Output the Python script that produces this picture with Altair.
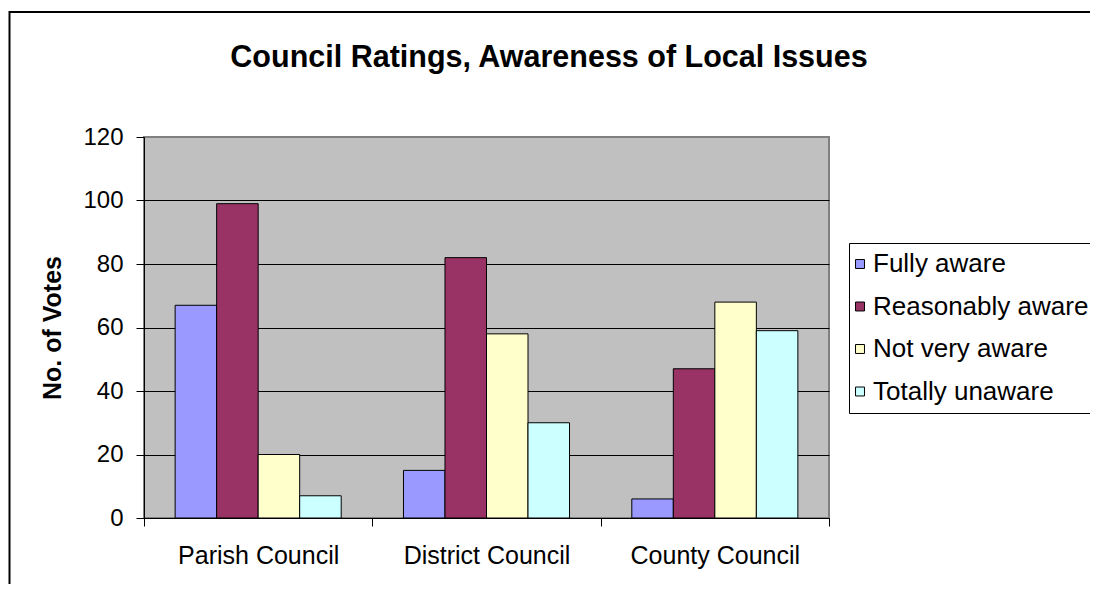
import altair as alt
import pandas as pd

categories = ["Parish Council", "District Council", "County Council"]
series = ["Fully aware", "Reasonably aware", "Not very aware", "Totally unaware"]
fully_aware = [67, 15, 6]
reasonably_aware = [99, 82, 47]
not_very_aware = [20, 58, 68]
totally_unaware = [7, 30, 59]
colors = ["#9999FF", "#993366", "#FFFFCC", "#CCFFFF"]
y_ticks = [0, 20, 40, 60, 80, 100, 120]
title_text = "Council Ratings, Awareness of Local Issues"
y_title = "No. of Votes"

rows = []
for s, vals in zip(series, [fully_aware, reasonably_aware, not_very_aware, totally_unaware]):
    for c, v in zip(categories, vals):
        rows.append({"council": c, "rating": s, "votes": v})
df = pd.DataFrame(rows)

W, H = 685, 381
FONT = "Liberation Sans"

bars = alt.Chart(df).mark_bar(stroke="black", strokeWidth=1).encode(
    x=alt.X(
        "council:N", sort=categories,
        scale=alt.Scale(paddingInner=0, paddingOuter=0),
        axis=alt.Axis(title=None, labelAngle=0, labelFontSize=25, labelColor="black",
                      labelFont=FONT, tickBand="extent", tickSize=8, tickColor="black",
                      domainColor="black", labelPadding=17, grid=False),
    ),
    xOffset=alt.XOffset("rating:N", sort=series,
                        scale=alt.Scale(paddingInner=0, paddingOuter=0.75)),
    y=alt.Y(
        "votes:Q",
        scale=alt.Scale(domain=[0, 120], nice=False),
        axis=alt.Axis(values=y_ticks, title=y_title, grid=True,
                      gridColor=alt.condition("datum.value == 120", alt.value("#808080"), alt.value("black")),
                      gridWidth=1, domainColor="black", tickColor="black", tickSize=8,
                      labelFontSize=24, labelColor="black", labelFont=FONT, labelPadding=13,
                      titleFontSize=25, titleFontWeight="bold", titleColor="black", titleFont=FONT,
                      titleX=-91.5, titleY=H / 2, titleAngle=270, titleBaseline="middle",
                      titleAlign="center"),
    ),
    color=alt.Color(
        "rating:N", sort=series,
        scale=alt.Scale(domain=series, range=colors),
        legend=alt.Legend(orient="none", legendX=705, legendY=106, title=None,
                          labelFontSize=26, labelColor="black", labelFont=FONT, labelLimit=500,
                          symbolType="square", symbolSize=80, symbolStrokeColor="black",
                          symbolStrokeWidth=1, symbolOpacity=1, strokeColor="black",
                          fillColor="white", padding=8, rowPadding=16.5, labelOffset=0,
                          symbolOffset=-10),
    ),
)

frame = alt.Chart(pd.DataFrame({"k": [0]})).mark_rect(
    fillOpacity=0, stroke="black", strokeWidth=2
).encode(
    x=alt.value(-134.5), x2=alt.value(W + 400), y=alt.value(-125), y2=alt.value(H + 300)
)

title = alt.Chart(pd.DataFrame({"t": [title_text]})).mark_text(
    fontSize=30.5, fontWeight="bold", font=FONT, baseline="alphabetic", align="center", color="black"
).encode(text="t:N", x=alt.value(405), y=alt.value(-70))

chart = alt.layer(frame, bars, title).properties(
    width=W, height=H,
    autosize=alt.AutoSizeParams(type="none"),
    padding={"left": 136, "top": 129, "right": 261, "bottom": 66},
    view=alt.ViewBackground(fill="#C0C0C0", stroke="#808080", strokeWidth=2),
).configure_view(fill="#C0C0C0", stroke="#808080", strokeWidth=2).configure(
    font=FONT, background="white"
)

chart.save("out.html", embed_options={"renderer": "svg", "actions": False})
